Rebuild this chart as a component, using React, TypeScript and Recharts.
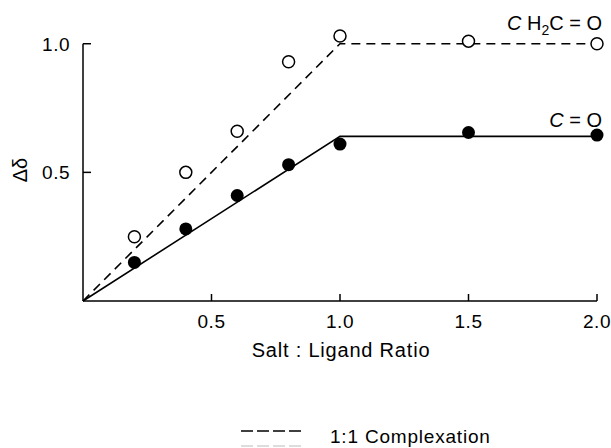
import React from 'react';
import { ComposedChart, Line, Scatter, XAxis, YAxis, ReferenceLine } from 'recharts';

// measured shifts (Δδ) against salt : ligand ratio
const ratio = [0.2, 0.4, 0.6, 0.8, 1.0, 1.5, 2.0];
const ch2coShift = [0.25, 0.5, 0.66, 0.93, 1.03, 1.01, 1.0];
const coShift = [0.15, 0.28, 0.41, 0.53, 0.61, 0.655, 0.645];

// 1:1 complexation model lines
const fitRatio = [0, 1, 2];
const ch2coFit = [0, 1, 1];
const coFit = [0, 0.64, 0.64];

const xTicks = [0.5, 1.0, 1.5, 2.0];
const yTicks = [0.5, 1.0];
const xTickLabels = ['0.5', '1.0', '1.5', '2.0'];
const yTickLabels = ['0.5', '1.0'];

const font = '"Liberation Sans", Arial, sans-serif';

const toPoints = (xs: number[], ys: number[]) => xs.map((x, i) => ({ x, y: ys[i] }));

const ch2coData = toPoints(ratio, ch2coShift);
const coData = toPoints(ratio, coShift);
const ch2coLine = toPoints(fitRatio, ch2coFit);
const coLine = toPoints(fitRatio, coFit);

function XTick({ x, y, payload }: any) {
  const label = xTickLabels[xTicks.indexOf(payload.value)] ?? String(payload.value);
  return (
    <g>
      <line x1={x} y1={y} x2={x} y2={y - 7} stroke="#000" strokeWidth={1.5} />
      <text x={x} y={y + 27} textAnchor="middle" fontSize={19} letterSpacing={0.6} fontFamily={font} fill="#000">
        {label}
      </text>
    </g>
  );
}

function YTick({ x, y, payload }: any) {
  const label = yTickLabels[yTicks.indexOf(payload.value)] ?? String(payload.value);
  return (
    <g>
      <line x1={x} y1={y} x2={x + 8} y2={y} stroke="#000" strokeWidth={1.5} />
      <text x={x - 13} y={y + 7} textAnchor="end" fontSize={19} letterSpacing={0.5} fontFamily={font} fill="#000">
        {label}
      </text>
    </g>
  );
}

const openDot = (p: any) => (
  <circle cx={p.cx} cy={p.cy} r={6} fill="#fff" stroke="#000" strokeWidth={1.5} />
);
const filledDot = (p: any) => <circle cx={p.cx} cy={p.cy} r={6.5} fill="#000" />;

export default function App() {
  return (
    <div style={{ position: 'absolute', left: 0, top: 0, width: 611, height: 448, background: '#fff', overflow: 'hidden' }}>
      <ComposedChart width={611} height={448} margin={{ top: 18, right: 14, left: 23, bottom: 117 }}>
        <XAxis
          type="number"
          dataKey="x"
          domain={[0, 2]}
          ticks={xTicks}
          axisLine={{ stroke: '#000', strokeWidth: 1.5 }}
          tickLine={false}
          tickSize={0}
          tickMargin={0}
          tick={<XTick />}
          height={30}
        />
        <YAxis
          type="number"
          dataKey="y"
          domain={[0, 1.1]}
          ticks={yTicks}
          axisLine={false}
          tickLine={false}
          tickSize={0}
          tickMargin={0}
          tick={<YTick />}
          width={60}
        />
        <ReferenceLine
          segment={[{ x: 0, y: 0 }, { x: 0, y: 1 }]}
          stroke="#000"
          strokeWidth={1.5}
        />
        <Line
          data={ch2coLine}
          dataKey="y"
          type="linear"
          stroke="#000"
          strokeWidth={1.6}
          strokeDasharray="9 6"
          dot={false}
          isAnimationActive={false}
        />
        <Line
          data={coLine}
          dataKey="y"
          type="linear"
          stroke="#000"
          strokeWidth={1.6}
          dot={false}
          isAnimationActive={false}
        />
        <Scatter data={ch2coData} dataKey="y" shape={openDot} isAnimationActive={false} />
        <Scatter data={coData} dataKey="y" shape={filledDot} isAnimationActive={false} />
      </ComposedChart>
      <svg width={611} height={448} style={{ position: 'absolute', left: 0, top: 0, pointerEvents: 'none' }}>
        <g fontFamily={font} fontSize={20} fill="#000">
          <text x={602} y={30} textAnchor="end">
            <tspan fontStyle="italic">C</tspan>
            <tspan> H</tspan>
            <tspan dy={5} fontSize={14}>2</tspan>
            <tspan dy={-5}>C = O</tspan>
          </text>
          <text x={602} y={127} textAnchor="end">
            <tspan fontStyle="italic">C</tspan>
            <tspan> = O</tspan>
          </text>
          <text x={341} y={357} textAnchor="middle" letterSpacing={0.8}>Salt : Ligand Ratio</text>
          <text x={20} y={170} textAnchor="middle" dominantBaseline="central" transform="rotate(-90 20 170)">Δδ</text>
          <line x1={241} y1={431} x2={303} y2={431} stroke="#000" strokeWidth={1.5} strokeDasharray="12 4" />
          <line x1={241} y1={446} x2={303} y2={446} stroke="#bbb" strokeWidth={1} strokeDasharray="12 4" />
          <text x={330} y={443} fontSize={19} letterSpacing={0.8}>1:1 Complexation</text>
        </g>
      </svg>
    </div>
  );
}
